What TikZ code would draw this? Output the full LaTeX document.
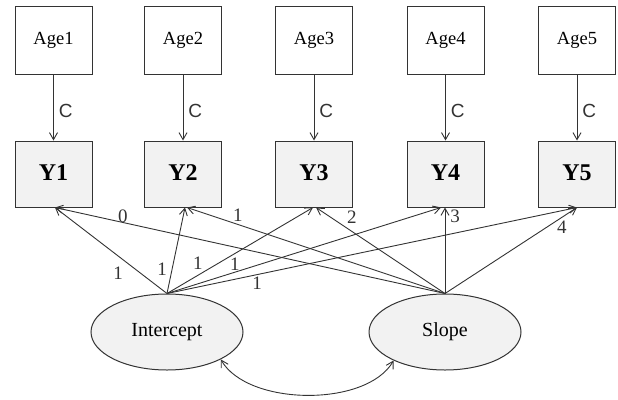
\documentclass[tikz,border=0pt]{standalone}
\usepackage{fontspec}
\setmainfont{Liberation Serif}
\newfontfamily\csans{Liberation Sans}
\usetikzlibrary{arrows.meta,shapes.geometric}
\definecolor{ln}{HTML}{333333}
\definecolor{bx}{HTML}{F2F2F2}
\tikzset{
  agebox/.style={draw=ln, line width=1pt, fill=white, minimum width=77pt, minimum height=68pt, inner sep=0pt, font=\fontsize{18.5}{18.5}\selectfont},
  ybox/.style={draw=ln, line width=1pt, fill=bx, minimum width=77pt, minimum height=66pt, inner sep=0pt, font=\fontsize{24}{24}\selectfont\bfseries},
  latent/.style={draw=ln, line width=1pt, fill=bx, ellipse, minimum width=152pt, minimum height=76pt, inner sep=0pt, font=\fontsize{20}{20}\selectfont},
  path/.style={draw=ln, line width=0.9pt, -{Straight Barb[length=7pt,width=8pt]}},
  cov/.style={draw=ln, line width=0.9pt, {Straight Barb[length=7pt,width=8pt]}-{Straight Barb[length=7pt,width=8pt]}},
  lbl/.style={font=\fontsize{19}{19}\selectfont, text=ln, inner sep=0pt},
  clbl/.style={font=\csans\fontsize{19}{19}\selectfont, text=ln, inner sep=0pt, anchor=west, xshift=5pt, yshift=-3pt}
}
\begin{document}
\begin{tikzpicture}[x=1pt,y=-1pt]
\useasboundingbox (0,0) rectangle (618,399);
\foreach \i/\x in {1/53.5,2/183,3/314,4/445.5,5/577}{
  \node[agebox] (A\i) at (\x,40) {\raisebox{4pt}{Age\i}};
  \node[ybox] (Y\i) at (\x,174) {\raisebox{3pt}{Y\i}};
  \draw[path] (A\i.south) -- node[clbl] {C} (Y\i.north);
}
\node[latent] (I) at (167,332) {Intercept};
\node[latent] (S) at (445,332) {Slope};
% slope paths
\draw[path] (S.north) -- node[lbl, pos=0.826, yshift=6pt] {0} ([xshift=1.5pt]Y1.south);
\draw[path] (S.north) -- node[lbl, pos=0.803, yshift=9pt] {1} ([xshift=4pt]Y2.south);
\draw[path] (S.north) -- node[lbl, pos=0.721, yshift=14pt] {2} ([xshift=2pt]Y3.south);
\draw[path] (S.north) -- node[lbl, pos=0.895, xshift=10pt] {3} ([xshift=-0.5pt]Y4.south);
\draw[path] (S.north) -- node[lbl, pos=0.886, yshift=-10pt] {4} (Y5.south);
% intercept paths
\draw[path] (I.north) -- node[lbl, pos=0.23, xshift=-23pt] {1} ([xshift=1.5pt]Y1.south);
\draw[path] (I.north) -- node[lbl, pos=0.28, xshift=-10pt] {1} ([xshift=2pt]Y2.south);
\draw[path] (I.north) -- node[lbl, pos=0.212, yshift=12pt] {1} ([xshift=-1pt]Y3.south);
\draw[path] (I.north) -- node[lbl, pos=0.248, yshift=8pt] {1} ([xshift=-4.5pt]Y4.south);
\draw[path] (I.north) -- node[lbl, pos=0.22, yshift=-9pt] {1} (Y5.south);
% covariance
\draw[cov] (I.-27) to[out=-60, in=-120, looseness=0.8] (S.-151);
\end{tikzpicture}
\end{document}
